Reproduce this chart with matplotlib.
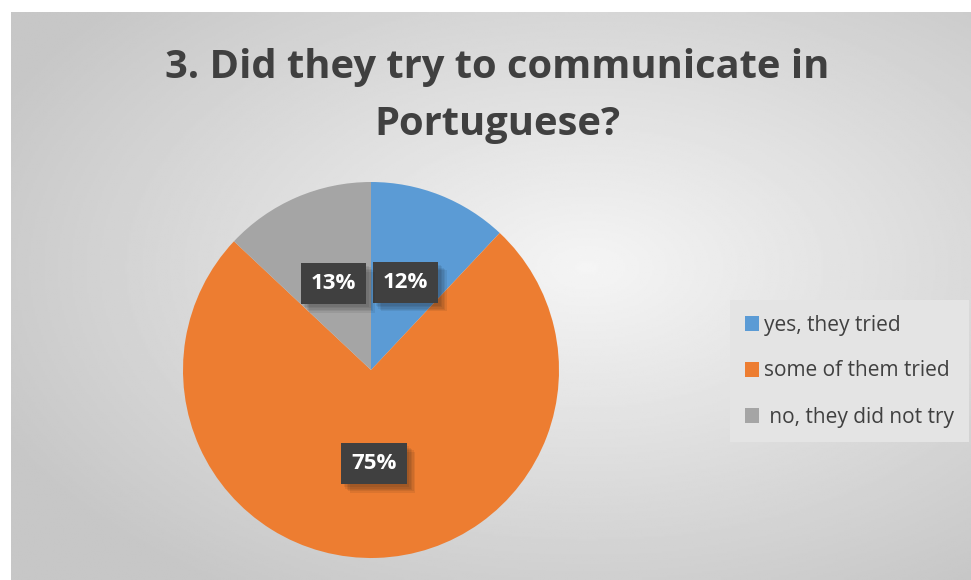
import numpy as np
import matplotlib
matplotlib.use('Agg')
import matplotlib.pyplot as plt
import matplotlib.patheffects as pe
from matplotlib.patches import Patch

title = '3. Did they try to communicate in\nPortuguese?'
labels = ['yes, they tried', 'some of them tried', ' no, they did not try']
values = [12, 75, 13]
colors = ['#5b9bd5', '#ed7d31', '#a5a5a5']

W, H = 971, 580
fig = plt.figure(figsize=(W / 100, H / 100), dpi=100)
fig.patch.set_facecolor('white')

# radial gradient background of the chart area
bg = fig.add_axes([11 / W, 0, (W - 11) / W, (H - 12) / H])
yy, xx = np.mgrid[0:1:300j, 0:1:500j]
dist = np.sqrt(((xx - 0.6) / 0.75) ** 2 + ((yy - 0.45) / 0.75) ** 2)
shade = np.clip(0.96 - 0.2 * dist, 0.78, 0.96)
bg.imshow(shade, cmap='gray', vmin=0, vmax=1, aspect='auto',
          extent=[0, 1, 0, 1], origin='upper')
bg.set_axis_off()

# pie
cx, cy, r = 371, 370, 188
ax = fig.add_axes([(cx - r) / W, (H - cy - r) / H, 2 * r / W, 2 * r / H])
wedges, texts, autotexts = ax.pie(
    values, colors=colors, startangle=90, counterclock=False,
    autopct='%1.0f%%', pctdistance=0.5, radius=1,
    textprops=dict(color='white', fontsize=16, fontweight='bold',
                   family=['Open Sans', 'DejaVu Sans']))
soft_shadow = [pe.SimplePatchShadow(offset=(o, -o), alpha=0.08)
               for o in (6, 5, 4, 3, 2)]
for t in autotexts:
    t.set_bbox(dict(boxstyle='square,pad=0.45', facecolor='#404040',
                    edgecolor='none'))
    t.get_bbox_patch().set_path_effects(soft_shadow + [pe.Normal()])
ax.set_xlim(-1, 1)
ax.set_ylim(-1, 1)
ax.set_aspect('equal')

fig.text(497 / W, 1 - 96 / H, title, ha='center', va='center',
         fontsize=28.7, fontweight='bold', color='#404040',
         family=['Open Sans', 'DejaVu Sans'], linespacing=1.6)

handles = [Patch(facecolor=c, edgecolor='none') for c in colors]
leg = fig.legend(handles, labels, loc='center left',
                 bbox_to_anchor=(730 / W, 1 - 371 / H),
                 frameon=True, fancybox=False,
                 labelcolor='#404040', handlelength=0.7, handleheight=0.7,
                 handletextpad=0.25, labelspacing=1.2, borderpad=0.7,
                 borderaxespad=0,
                 prop=dict(family=['Open Sans', 'DejaVu Sans'], size=15))
leg.get_frame().set_facecolor('#e4e4e4')
leg.get_frame().set_edgecolor('none')
leg.get_frame().set_alpha(1)

fig.savefig('out.png', dpi=100)
